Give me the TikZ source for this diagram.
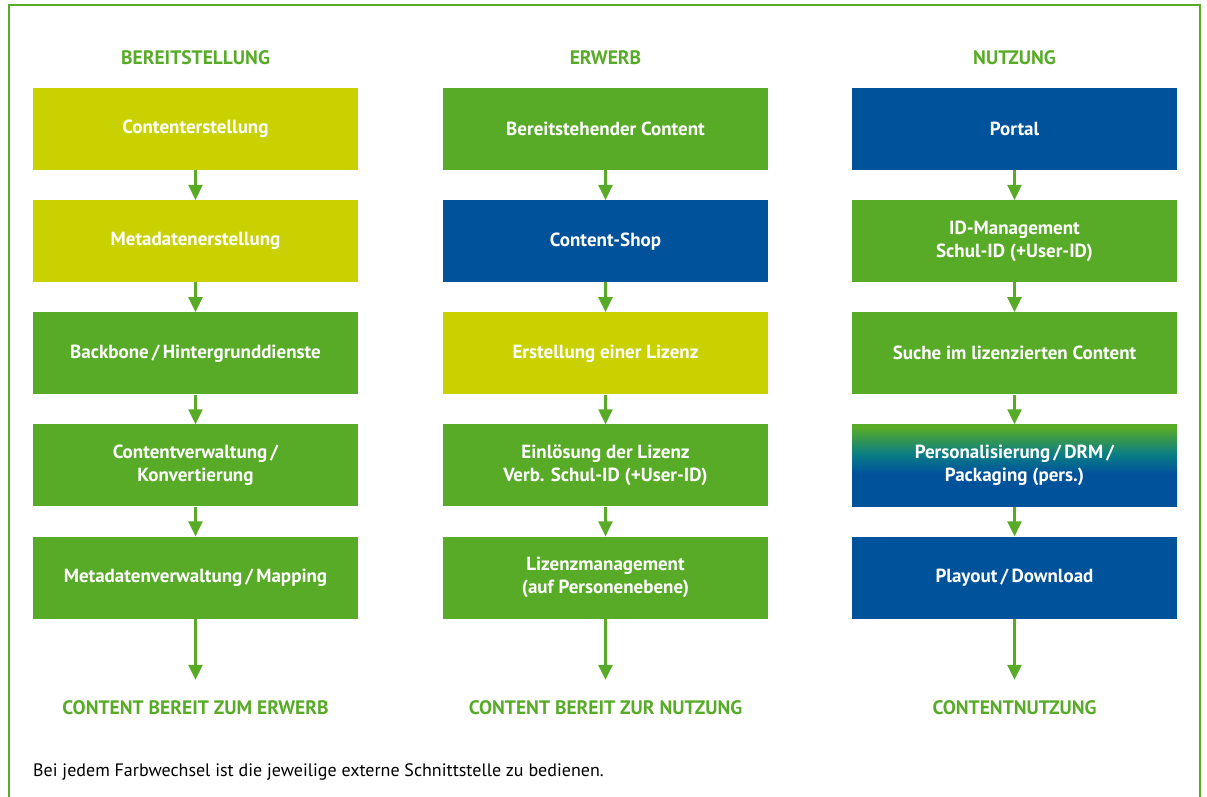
\documentclass[tikz,border=0pt]{standalone}
\usepackage{fontspec}
\setmainfont{PT Sans}
\usetikzlibrary{positioning,arrows.meta}

\definecolor{bgreen}{HTML}{58AB27}
\definecolor{blime}{HTML}{C9D200}
\definecolor{bblue}{HTML}{00529B}
\definecolor{bteal}{HTML}{0A7E84}
\pgfdeclareverticalshading{greenblue}{100bp}{color(0bp)=(bblue); color(45bp)=(bblue); color(57bp)=(bteal); color(73bp)=(bgreen); color(100bp)=(bgreen)}

\begin{document}
\begin{tikzpicture}[x=1pt, y=-1pt, >={Triangle[width=14pt,length=15pt]}, node distance=29.75pt,
	box/.style={minimum width=325pt, minimum height=82pt, inner sep=0pt, align=center, text=white, font=\bfseries\fontsize{19}{23}\selectfont},
	lime/.style={box, fill=blime},
	green/.style={box, fill=bgreen},
	blue/.style={box, fill=bblue},
	mixed/.style={box, shading=greenblue},
	head/.style={text=bgreen, font=\bfseries\fontsize{19.5}{22}\selectfont},
	flow/.style={draw=bgreen, line width=2.5pt, ->}]
	
	\useasboundingbox (0,0) rectangle (1207,796);
	
	% Frame, open at the bottom
	\draw[bgreen, line width=1.5pt] (9,800) |- (1200,5) -- (1200,800);
	
	% Bereitstellung
	\node[head] (hb) at (195.5,58) {BEREITSTELLUNG};
	\node[lime] (b1) at (195.5,129) {Contenterstellung};
	\node[lime, below=of b1] (b2) {Metadatenerstellung};
	\node[green, below=of b2] (b3) {Backbone\,/\,Hintergrunddienste};
	\node[green, below=of b3] (b4) {Contentverwaltung\,/\\Konvertierung};
	\node[green, below=of b4] (b5) {Metadatenverwaltung\,/\,Mapping};
	\node[head] (fb) at (195.5,708) {CONTENT BEREIT ZUM ERWERB};
	
	% Erwerb
	\node[head] (he) at (605.5,58) {ERWERB};
	\node[green] (e1) at (605.5,129) {Bereitstehender Content};
	\node[blue, below=of e1] (e2) {Content-Shop};
	\node[lime, below=of e2] (e3) {Erstellung einer Lizenz};
	\node[green, below=of e3] (e4) {Einlösung der Lizenz\\Verb. Schul-ID (+User-ID)};
	\node[green, below=of e4] (e5) {Lizenzmanagement\\(auf Personenebene)};
	\node[head] (fe) at (605.5,708) {CONTENT BEREIT ZUR NUTZUNG};
	
	% Nutzung
	\node[head] (hn) at (1014.5,58) {NUTZUNG};
	\node[blue] (n1) at (1014.5,129) {Portal};
	\node[green, below=of n1] (n2) {ID-Management\\Schul-ID (+User-ID)};
	\node[green, below=of n2] (n3) {Suche im lizenzierten Content};
	\node[mixed, below=of n3] (n4) {Personalisierung\,/\,DRM\,/\\Packaging (pers.)};
	\node[blue, below=of n4] (n5) {Playout\,/\,Download};
	\node[head] (fn) at (1014.5,708) {CONTENTNUTZUNG};
	
	% Arrows between the steps and out to the results
	\foreach \c in {b,e,n}{
		\foreach \i [count=\j from 2] in {1,...,4}
			\draw[flow] (\c\i) -- (\c\j);
		\coordinate[below=61pt of \c5] (\c x);
		\draw[flow] (\c5) -- (\c x);
	}
	
	% Footnote
	\node[anchor=west, inner sep=0pt, font=\fontsize{18}{20}\selectfont] (note) at (33,772) {Bei jedem Farbwechsel ist die jeweilige externe Schnittstelle zu bedienen.};
	
\end{tikzpicture}
\end{document}
